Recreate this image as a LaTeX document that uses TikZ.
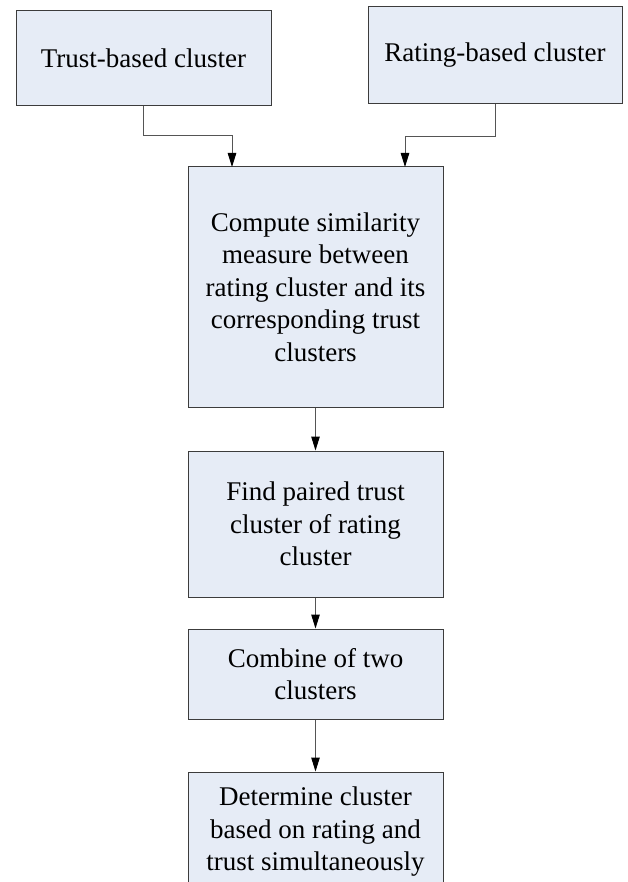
\documentclass[tikz,border=0pt]{standalone}
\usepackage{fontspec}
\setmainfont{Liberation Serif}
\usetikzlibrary{arrows.meta}
\definecolor{boxfill}{RGB}{230,236,246}
\definecolor{boxline}{RGB}{60,60,60}
\definecolor{conline}{RGB}{85,85,85}
\tikzset{
  box/.style={draw=boxline, fill=boxfill, line width=1pt, align=center, inner sep=0pt,
    font=\fontsize{27}{32.5}\selectfont},
  arr/.style={draw=conline, line width=1pt, -{Triangle[length=14pt,width=8.5pt,fill=black,color=black]}}
}
\begin{document}
\begin{tikzpicture}[x=1pt,y=-1pt]
\clip (0,0) rectangle (628,882);
\fill[white] (0,0) rectangle (628,882);
\node[box, minimum width=255pt, minimum height=95pt] (trust) at (143.5,58.5) {Trust-based cluster};
\node[box, minimum width=254pt, minimum height=97pt] (rating) at (495,55.5) {Rating-based cluster};
\node[box, minimum width=255pt, minimum height=240pt] (main) at (315.5,287) {Compute similarity\\measure between\\rating cluster and its\\corresponding trust\\clusters};
\node[box, minimum width=255pt, minimum height=146pt] (pair) at (315.5,524) {Find paired trust\\cluster of rating\\cluster};
\node[box, minimum width=255pt, minimum height=90pt] (comb) at (315.5,674) {Combine of two\\clusters};
\node[box, minimum width=255pt, minimum height=120pt] (det) at (315.5,832) {Determine cluster\\based on rating and\\trust simultaneously};
\coordinate (tin) at (232,167);
\coordinate (rin) at (405,167);
\draw[arr] (trust.south) -- ++(0,29) -| (tin);
\draw[arr] (rating.south) -- ++(0,32) -| (rin);
\draw[arr] (main.south) -- (pair.north);
\draw[arr] (pair.south) -- (comb.north);
\draw[arr] (comb.south) -- (det.north);
\end{tikzpicture}
\end{document}
